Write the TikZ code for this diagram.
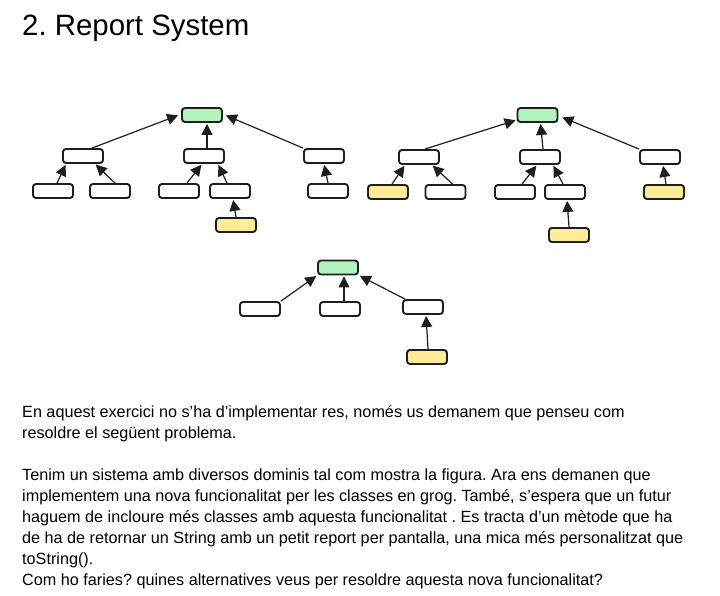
\documentclass[tikz,border=0pt]{standalone}
\usepackage{fontspec}
\setmainfont{Liberation Sans}
\usepackage{xcolor}
\usetikzlibrary{arrows.meta}

\definecolor{ink}{HTML}{1E1E1E}
\definecolor{greenfill}{HTML}{B2F2BB}
\definecolor{yellowfill}{HTML}{FFEC99}

\tikzset{
	cls/.style={draw=ink,line width=1.9pt,rounded corners=3pt,fill=white,
		minimum width=40pt,minimum height=14pt,inner sep=0pt},
	clsbase/.style={cls,fill=greenfill},
	clsgrog/.style={cls,fill=yellowfill},
	inh/.style={-{Triangle[length=11pt,width=11pt]},color=ink,line width=1.2pt,shorten >=1pt},
	txt/.style={anchor=base west,inner sep=0pt,font=\fontsize{16.2}{21}\selectfont}
}

\begin{document}
\frenchspacing
\begin{tikzpicture}[x=1pt,y=-1pt]
		\useasboundingbox (0,0) rectangle (720,595);
		%
		\node[anchor=base west,inner sep=0pt,font=\fontsize{29.4}{35}\selectfont] (title) at (22,35) {2. Report System};
		%
		% first tree
		\node[clsbase] (r1) at (202,115) {};
		\node[cls] (a1) at (83,156) {};
		\node[cls] (b1) at (204,156) {};
		\node[cls] (c1) at (324,156) {};
		\node[cls] (a11) at (53,191) {};
		\node[cls] (a12) at (110,191) {};
		\node[cls] (b11) at (179,191) {};
		\node[cls] (b12) at (230,191) {};
		\node[cls] (c11) at (328,191) {};
		\node[clsgrog] (b121) at (236,225) {};
		%
		\path[inh]
		([xshift=9pt]a1.north) edge ([xshift=-2pt]r1.west)
		([xshift=3pt]b1.north) edge ([xshift=5pt]r1.south)
		(c1.north west) edge ([xshift=2pt]r1.east)
		([xshift=4pt]a11.north) edge ([xshift=-17pt]a1.south)
		([xshift=5pt]a12.north) edge ([xshift=12pt]a1.south)
		([xshift=8pt]b11.north) edge ([xshift=-2pt]b1.south)
		([xshift=-3pt]b12.north) edge ([xshift=14pt]b1.south)
		(c11.north) edge (c1.south)
		(b121.north) edge ([xshift=3pt]b12.south);
		%
		% second tree
		\node[clsbase] (r2) at (537.5,115) {};
		\node[cls] (a2) at (419,157) {};
		\node[cls] (b2) at (540,157) {};
		\node[cls] (c2) at (660,157) {};
		\node[clsgrog] (a21) at (388,192) {};
		\node[cls] (a22) at (445.5,192) {};
		\node[cls] (b21) at (515,192) {};
		\node[cls] (b22) at (565,192) {};
		\node[clsgrog] (c21) at (664,192) {};
		\node[clsgrog] (b221) at (569,235) {};
		%
		\path[inh]
		([xshift=6pt]a2.north) edge ([yshift=-5pt]r2.west)
		([xshift=3pt]b2.north) edge ([xshift=3pt]r2.south)
		(c2.north west) edge ([yshift=-2pt,xshift=3pt]r2.east)
		([xshift=4pt]a21.north) edge ([xshift=-14pt]a2.south)
		([xshift=7pt]a22.north) edge ([xshift=13pt]a2.south)
		([xshift=7pt]b21.north) edge ([xshift=-3pt]b2.south)
		([xshift=-2pt]b22.north) edge ([xshift=13pt]b2.south)
		([xshift=2pt]c21.north) edge ([xshift=3pt]c2.south)
		(b221.north) edge ([xshift=2pt]b22.south);
		%
		% third tree
		\node[clsbase] (r3) at (338,267.5) {};
		\node[cls] (a3) at (260,309) {};
		\node[cls] (b3) at (340,309) {};
		\node[cls] (c3) at (423,307) {};
		\node[clsgrog] (c31) at (427,357) {};
		%
		\path[inh]
		(a3.north east) edge (r3.south west)
		([xshift=4pt]b3.north) edge ([xshift=6pt]r3.south)
		([xshift=3pt]c3.north west) edge (r3.south east)
		([xshift=1pt]c31.north) edge ([xshift=3pt]c3.south);
		%
		% statement
		\node[txt] (l1) at (22,417) {En aquest exercici no s’ha d’implementar res, només us demanem que penseu com};
		\node[txt] (l2) at (22,438) {resoldre el següent problema.};
		\node[txt] (l3) at (22,480) {Tenim un sistema amb diversos dominis tal com mostra la figura. Ara ens demanen que};
		\node[txt] (l4) at (22,501) {implementem una nova funcionalitat per les classes en grog. També, s’espera que un futur};
		\node[txt] (l5) at (22,522) {haguem de incloure més classes amb aquesta funcionalitat . Es tracta d’un mètode que ha};
		\node[txt] (l6) at (22,543) {de ha de retornar un String amb un petit report per pantalla, una mica més personalitzat que};
		\node[txt] (l7) at (22,564) {toString().};
		\node[txt] (l8) at (22,585) {Com ho faries? quines alternatives veus per resoldre aquesta nova funcionalitat?};
	\end{tikzpicture}
\end{document}
